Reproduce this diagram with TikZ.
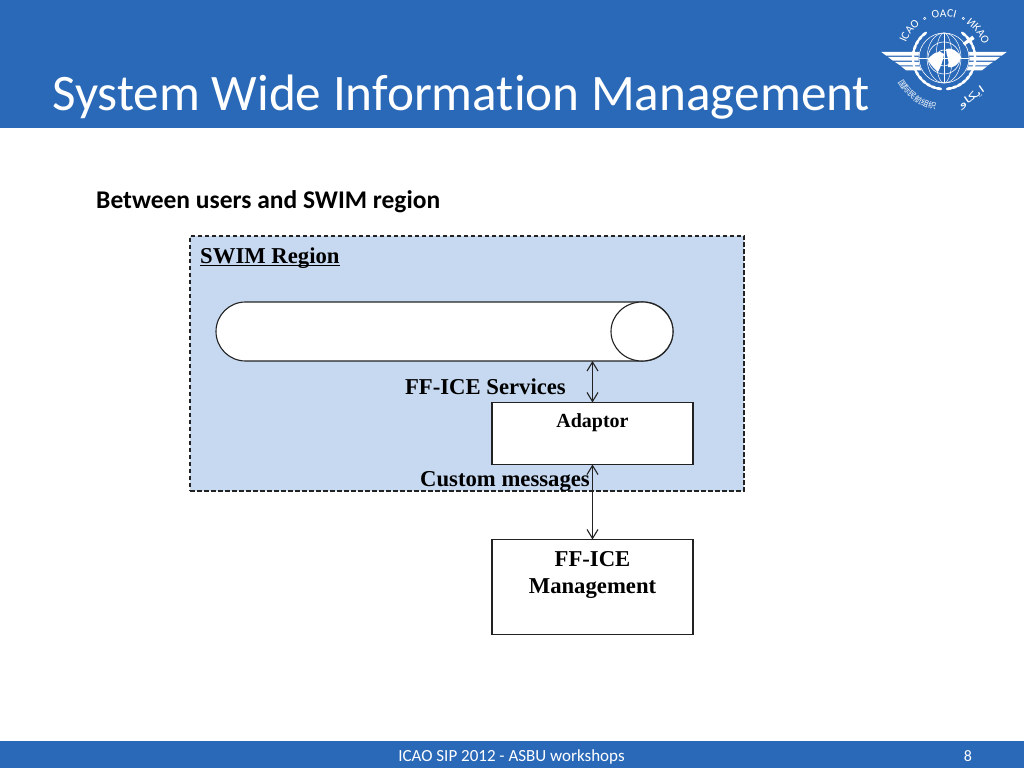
\documentclass[tikz,border=0pt]{standalone}
\usepackage{fontspec}
\setmainfont{Liberation Serif}
\newfontfamily\titlefont[Ligatures=NoCommon]{Carlito}
\newfontfamily\cjkfont{Noto Sans CJK SC}
\newfontfamily\arabicfont[Script=Arabic]{DejaVu Sans}
\TeXXeTstate=1
\usetikzlibrary{calc}
\usetikzlibrary{positioning}
\usetikzlibrary{arrows.meta}
\usetikzlibrary{shapes.geometric}
\usetikzlibrary{decorations.text}

\definecolor{bandblue}{HTML}{2A69B8}
\definecolor{regionblue}{HTML}{C6D9F1}
\definecolor{edgegrey}{HTML}{222222}

\tikzset{
    box/.style={draw=edgegrey, fill=white, line width=1.1pt, inner sep=0pt, outer sep=0pt},
    boxtext/.style={font=\bfseries\fontsize{22.7}{27}\selectfont, inner sep=0pt},
    link/.style={<->, >={Straight Barb[length=9pt,width=11pt]}, draw=edgegrey, line width=1.1pt},
    arctext/.style={decorate, decoration={text along path, text align=center, text color=white}},
}

\begin{document}
\begin{tikzpicture}[x=1pt,y=1pt]
            \useasboundingbox (0,0) rectangle (1024,768);

            % Bands
            \fill[bandblue] (0,640) rectangle (1024,768);
            \fill[bandblue] (0,0) rectangle (1024,27);
            \node[anchor=base west, inner sep=0pt, text=white, font=\titlefont\fontsize{51.2}{56}\selectfont] (title) at (52,657) {System Wide Information Management};
            \node[anchor=base, inner sep=0pt, text=white, font=\titlefont\fontsize{17}{20}\selectfont] (footer) at (511.5,7) {ICAO SIP 2012 - ASBU workshops};
            \node[anchor=base, inner sep=0pt, text=white, font=\titlefont\fontsize{16}{20}\selectfont] (page) at (968,7) {8};
            \node[anchor=base west, inner sep=0pt, font=\titlefont\bfseries\fontsize{25.5}{28}\selectfont] (heading) at (96,559) {Between users and SWIM region};

            % SWIM region
            \node[draw=edgegrey, dash pattern=on 4.5pt off 2.5pt, fill=regionblue, line width=1.1pt, inner sep=0pt, outer sep=0pt, minimum width=554pt, minimum height=255pt] (region) at (467,404.5) {};
            \node[boxtext, anchor=base west] (regionname) at (200,504) {\underline{\smash{SWIM Region}}};
            \node[box, rounded corners=29.5pt, minimum width=457pt, minimum height=59pt] (pipe) at (444.5,436.5) {};
            \node[draw=edgegrey, fill=white, line width=1.1pt, ellipse, inner sep=0pt, outer sep=0pt, minimum width=62pt, minimum height=59pt] (cap) at (642,436.5) {};

            % Boxes
            \node[box, minimum width=201pt, minimum height=62pt] (adaptor) at (592.5,334.5) {};
            \node[box, minimum width=201pt, minimum height=95pt, below=75pt of adaptor] (management) {};
            \node[anchor=base, inner sep=0pt, font=\bfseries\fontsize{20}{24}\selectfont] (adaptorname) at ($(adaptor.north) + (0,-25.5)$) {Adaptor};
            \node[boxtext, align=center, anchor=north] (managementname) at ($(management.north) + (0,-12)$) {FF-ICE\\Management};

            % Links
            \draw[link] (adaptor.north |- pipe.south) -- (adaptor.north);
            \draw[link] (adaptor.south) -- (management.north);
            \node[boxtext, anchor=base east] (services) at (566,373) {FF-ICE Services};
            \node[boxtext, anchor=base east] (messages) at (590,281) {Custom messages};

            % Emblem
            \begin{scope}[shift={(944,710)}, white]
                \foreach \s in {1,-1} {
                    \begin{scope}[xscale=\s]
                        \foreach \a in {130,140,...,260}
                            \fill[rotate=\a] (31,0) ellipse (1.5pt and 3.6pt);
                        \foreach \x/\yt/\yb in {-62.7/6/2.3, -56/1/-2.7, -49/-4/-7.3, -43/-8.3/-12.3}
                            \fill (\x,\yt) -- (-22,\yt) -- (-22,\yb) -- (\x+5,\yb) -- cycle;
                    \end{scope}
                }
                \fill[bandblue] (0,0) circle (25.5pt);
                \foreach \r in {8,16,25}
                    \draw[line width=0.6pt] (0,0) circle (\r pt);
                \foreach \w in {8,17}
                    \draw[line width=0.5pt] (0,0) ellipse (\w pt and 25pt);
                \draw[line width=0.5pt] (-25,0) -- (25,0);
                \draw[line width=0.5pt] (0,-25) -- (0,25);
                \fill (-16,-1) .. controls (-10,6) and (-4,8) .. (0,4) .. controls (-1,-3) and (-3,-8) .. (-6,-14) .. controls (-10,-10) and (-15,-6) .. (-16,-1);
                \fill (2,9) .. controls (7,11) and (14,7) .. (17,1) .. controls (15,-7) and (8,-11) .. (4,-9) .. controls (6,-3) and (2,3) .. (2,9);
                \fill[rotate=35] (36,-2) -- (24,-1.5) -- (24,1.5) -- (36,2) -- cycle;
                % Emblem lettering
                \path[arctext, decoration={text={|\titlefont\fontsize{11.5}{14}\selectfont|ICAO}}] (162:41) arc (162:122:41);
                \path[arctext, decoration={text={|\titlefont\fontsize{11.5}{14}\selectfont|OACI}}] (110:41) arc (110:70:41);
                \path[arctext, decoration={text={|\titlefont\fontsize{11.5}{14}\selectfont|ИКАО}}] (58:41) arc (58:18:41);
                \foreach \a in {116,64}
                    \draw[line width=0.5pt] (\a:44) circle (1.2pt);
                \path[arctext, decoration={text={|\cjkfont\fontsize{8}{10}\selectfont|国际民航组织}}] (200:52) arc (200:268:52);
                \node[rotate=35, xscale=1.6, transform shape, text=white, font=\arabicfont\fontsize{10}{11}\selectfont, inner sep=0pt] (arabicname) at (27.7,-39.7) {\beginR ايكاو\endR};
            \end{scope}
        \end{tikzpicture}
\end{document}
